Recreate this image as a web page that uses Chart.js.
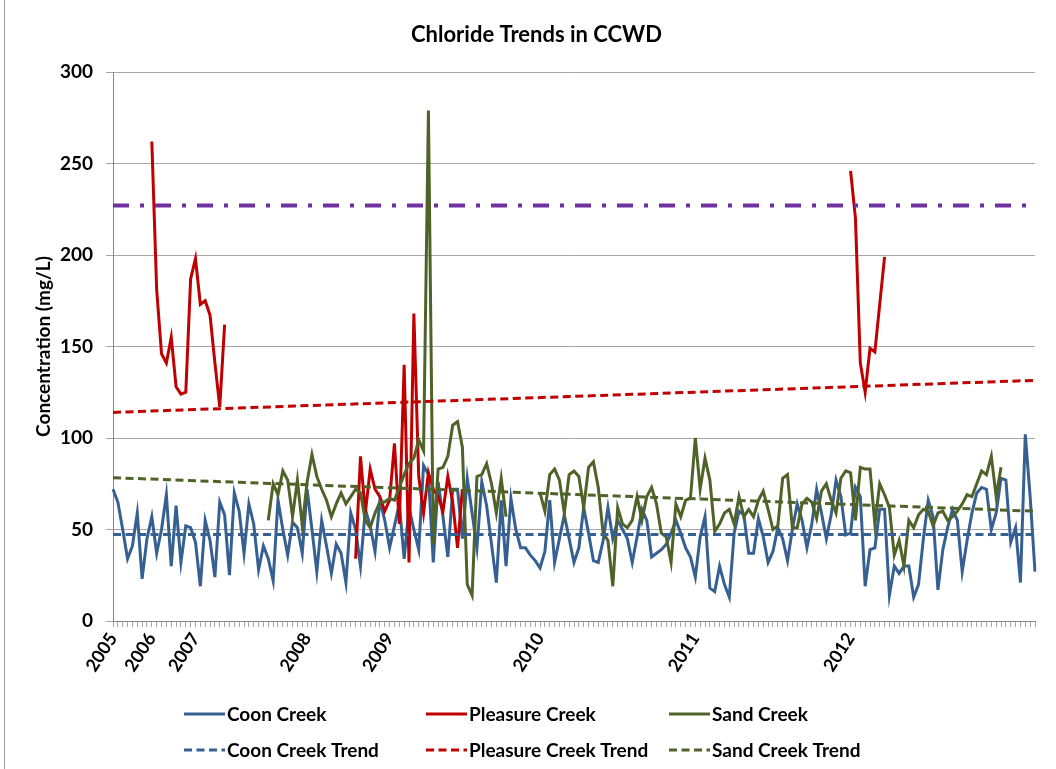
<!DOCTYPE html>
<html>
<head>
<meta charset="utf-8">
<script src="https://cdn.jsdelivr.net/npm/chart.js@4.4.0/dist/chart.umd.min.js"></script>
<style>
html, body { margin: 0; padding: 0; background: #fff; }
</style>
</head>
<body>
<canvas id="chloride" width="1056" height="769"></canvas>
<script>
// year labels and the sample index where each year starts
var yearLabels = ['2005', '2006', '2007', '2008', '2009', '2010', '2011', '2012'];
var yearStart = [0, 8, 17, 40, 57, 88, 120, 152];

// Coon Creek, one value per sample (mg/L)
var coon = [
  72, 65, 50, 34, 41, 59, 23, 45, 57, 37, 50, 69, 30, 63, 32, 52, 51, 43, 19, 55, 44, 24, 65, 58, 25, 70, 60, 37, 64, 53, 28,
  41, 34, 22, 66, 50, 36, 54, 51, 37, 72, 50, 27, 55, 41, 26, 42, 37, 21, 59, 50, 30, 61, 52, 38, 66, 55, 40, 52, 64,
  34, 62, 50, 39, 85, 80, 32, 76, 57, 35, 72, 72, 45, 78, 59, 40, 76, 63, 42, 21, 66, 30, 67, 50, 40, 40, 36, 33, 29, 38, 66, 32,
  45, 58, 45, 32, 40, 62, 48, 33, 32, 44, 62, 45, 55, 50, 45, 32, 46, 61, 55, 35, 37, 39, 42, 48, 55, 48, 40, 35, 24, 46, 57, 18,
  16, 30, 20, 13, 48, 60, 58, 37, 37, 56, 46, 32, 38, 51, 45, 33, 50, 64, 55, 40, 53, 72, 59, 45,
  58, 77, 68, 47, 48, 73, 68, 19, 39, 40, 61, 61, 14, 30, 26, 30, 30, 13, 20, 45, 66, 57, 17, 39, 51, 61, 55, 27, 44, 59, 70, 73, 72, 50, 59, 78, 77, 43, 51, 21, 102, 68, 27
];

// Pleasure Creek, three sampling runs
var pleasureStart = [8, 50, 152];
var pleasure1 = [262, 181, 146, 141, 155, 128, 124, 125, 187, 198, 173, 175, 167, 141, 117, 162];
var pleasure2 = [34, 90, 59, 83, 72, 68, 60, 66, 97, 53, 140, 32, 168, 79, 59, 81, 72, 68, 60, 79, 65, 40, 72];
var pleasure3 = [246, 220, 141, 125, 149, 147, 173, 199];

// Sand Creek (null = not sampled)
var sandStart = 32;
var sand = [
  55, 75, 69, 82, 77, 57, 77, 52, 76, 91, 79, 72, 66, 57, 64, 70, 64, 68, 72, 70, 55, 51, 59, 65, 65, 67, 66, 73, 80, 86,
  89, 99, 93, 279, 42, 83, 84, 90, 107, 109, 95, 20, 14, 79, 80, 86, 75, 59, 78, 57,
  null, null, null, null, null, null,
  70, 60, 80, 83, 77, 59, 80, 82, 79, 62, 84, 87, 73, 48, 44, 19, 62, 53, 51, 55, 68, 55, 68, 73, 64, 48, 46, 32, 64, 57, 66, 67, 100, 72, 89, 77,
  49, 53, 59, 61, 53, 68, 57, 61, 57, 66, 71, 61, 50, 52, 78, 80, 51, 51, 64, 67, 65, 56, 71, 75, 66, 59, 78, 82, 81, 55,
  84, 83, 83, 53, 75, 69, 62, 36, 44, 30, 55, 51, 58, 61, 60, 52, 59, 60, 55, 57, 60, 64, 69, 68, 75, 82, 80, 90, 68, 84
];

// trend lines: value at first and last sample
var coonTrend = [47.3, 47.3];
var pleasureTrend = [114, 131.5];
var sandTrend = [78.3, 60];
var standardLine = [227, 227];

var n = coon.length;

function blank() {
    var a = [];
    for (var i = 0; i < n; i++) a.push(null);
    return a;
}
function place(arr, start, vals) {
    vals.forEach(function (v, k) { arr[start + k] = v; });
    return arr;
}
function ends(pair) {
    var a = blank();
    a[0] = pair[0];
    a[n - 1] = pair[1];
    return a;
}

var labels = blank().map(function () { return ''; });
yearStart.forEach(function (s, k) { labels[s] = yearLabels[k]; });

var pleasure = blank();
place(pleasure, pleasureStart[0], pleasure1);
place(pleasure, pleasureStart[1], pleasure2);
place(pleasure, pleasureStart[2], pleasure3);

var blue = '#376092', red = '#C00000', green = '#4F6228', purple = '#7030A0';

// legend laid out in fixed columns like the Excel one
var legendCols = [184, 426, 669];
var legendRows = [714, 750];
var rowLegend = {
    id: 'rowLegend',
    afterDraw: function (chart) {
        var c = chart.ctx;
        c.save();
        c.font = 'bold 19px Lato';
        c.textBaseline = 'middle';
        c.textAlign = 'left';
        for (var k = 0; k < 6; k++) {
            var ds = chart.data.datasets[k];
            var x = legendCols[k % 3], y = legendRows[Math.floor(k / 3)];
            c.strokeStyle = ds.borderColor;
            c.lineWidth = 3;
            c.setLineDash(ds.borderDash || []);
            c.beginPath();
            c.moveTo(x, y);
            c.lineTo(x + 41, y);
            c.stroke();
            c.setLineDash([]);
            c.fillStyle = '#000';
            c.fillText(ds.label, x + 43, y + 1);
        }
        c.restore();
    }
};

var leftBorder = {
    id: 'leftBorder',
    afterDraw: function (chart) {
        var c = chart.ctx;
        c.save();
        c.strokeStyle = '#9a9a9a';
        c.lineWidth = 1;
        c.beginPath();
        c.moveTo(4.5, 0);
        c.lineTo(4.5, 769);
        c.stroke();
        c.restore();
    }
};

new Chart(document.getElementById('chloride'), {
    type: 'line',
    data: {
        labels: labels,
        datasets: [
            { label: 'Coon Creek', data: coon, borderColor: blue, order: 7 },
            { label: 'Pleasure Creek', data: pleasure, borderColor: red, order: 6 },
            { label: 'Sand Creek', data: place(blank(), sandStart, sand), borderColor: green, order: 5 },
            { label: 'Coon Creek Trend', data: ends(coonTrend), borderColor: blue, borderDash: [8, 4.5], spanGaps: true, order: 4 },
            { label: 'Pleasure Creek Trend', data: ends(pleasureTrend), borderColor: red, borderDash: [8, 4.5], spanGaps: true, order: 3 },
            { label: 'Sand Creek Trend', data: ends(sandTrend), borderColor: green, borderDash: [8, 4.5], spanGaps: true, order: 2 },
            { label: 'Standard', data: ends(standardLine), borderColor: purple, borderWidth: 4, borderDash: [16, 11, 4, 11], spanGaps: true, order: 1 }
        ]
    },
    options: {
        responsive: false,
        animation: false,
        devicePixelRatio: 1,
        layout: { padding: { left: 38, right: 21, top: 0, bottom: 78 } },
        elements: {
            point: { radius: 0 },
            line: { tension: 0, borderWidth: 3, fill: false }
        },
        plugins: {
            legend: { display: false },
            tooltip: { enabled: false },
            title: {
                display: true,
                text: 'Chloride Trends in CCWD',
                color: '#000',
                font: { family: 'Lato', size: 22, weight: 'bold' },
                padding: { top: 22, bottom: 23.6 }
            }
        },
        scales: {
            x: {
                ticks: {
                    autoSkip: false,
                    maxRotation: 57,
                    minRotation: 57,
                    color: '#000',
                    font: { family: 'Lato', size: 18, weight: 'bold' },
                    padding: 2
                },
                grid: { drawOnChartArea: false, tickLength: 6, color: '#a6a6a6' },
                border: { color: '#868686' },
                afterFit: function (s) { s.height = 70; }
            },
            y: {
                min: 0,
                max: 300,
                ticks: {
                    stepSize: 50,
                    color: '#000',
                    font: { family: 'Lato', size: 19, weight: 'bold' },
                    padding: 13
                },
                grid: { color: '#a6a6a6', tickLength: 7 },
                border: { color: '#868686' },
                title: {
                    display: true,
                    text: 'Concentration (mg/L)',
                    color: '#000',
                    font: { family: 'Lato', size: 19, weight: 'bold' },
                    padding: { top: -6, bottom: 0 }
                },
                afterFit: function (s) { s.width = 75; }
            }
        }
    },
    plugins: [rowLegend, leftBorder]
});
</script>
</body>
</html>
